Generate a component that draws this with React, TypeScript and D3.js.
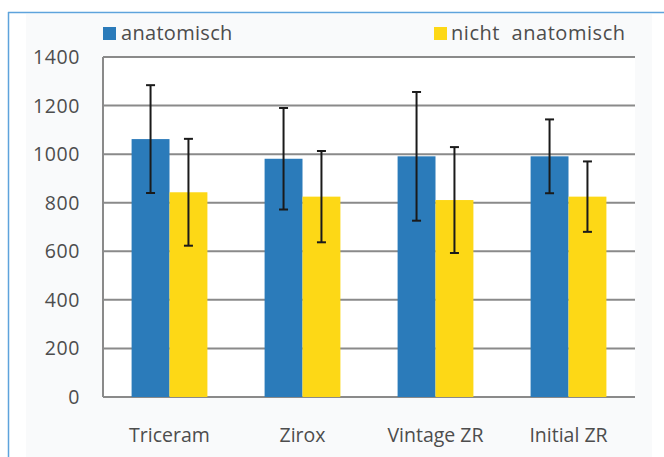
import React from "react";
import * as d3 from "d3";

const categories = ["Triceram", "Zirox", "Vintage ZR", "Initial ZR"];
const seriesNames = ["anatomisch", "nicht  anatomisch"];
const anatomisch = [1062, 981, 991, 991];
const anatomischErr = [222, 209, 265, 152];
const nichtAnatomisch = [843, 825, 811, 825];
const nichtAnatomischErr = [220, 188, 218, 145];
const yTicks = [0, 200, 400, 600, 800, 1000, 1200, 1400];
const colors = ["#2b7bba", "#fdd816"];

export default function App() {
  const W = 664, H = 457;
  const left = 103, right = 635, top = 57, bottom = 397;
  const x = d3.scaleBand().domain(categories).range([left, right]).paddingInner(0.43).paddingOuter(0.215);
  const x1 = d3.scaleBand().domain(["0", "1"]).range([0, x.bandwidth()]);
  const y = d3.scaleLinear().domain([0, 1400]).range([bottom, top]);
  const series = [
    { vals: anatomisch, errs: anatomischErr },
    { vals: nichtAnatomisch, errs: nichtAnatomischErr },
  ];
  const font = "'Open Sans', sans-serif";
  const txt = "#4d4d4d";
  return (
    <svg width={W} height={H} style={{ position: "absolute", left: 0, top: 0 }}>
      <rect x={0} y={0} width={W} height={H} fill="#ffffff" />
      <rect x={26} y={14} width={626} height={H - 14} fill="#f9fafb" />
      <line x1={8} y1={12.5} x2={W} y2={12.5} stroke="#5ea3dc" strokeWidth={1.5} />
      <line x1={8.5} y1={12} x2={8.5} y2={H} stroke="#5ea3dc" strokeWidth={1.5} />
      <rect x={left} y={top} width={right - left} height={bottom - top} fill="#ffffff" />
      {yTicks.map((t) => (
        <g key={t}>
          <line x1={left} x2={right} y1={y(t)} y2={y(t)} stroke="#8a8a8a" strokeWidth={2} />
          <text x={80} y={y(t)} dy="0.36em" textAnchor="end" fontFamily={font} fontSize={19.5} letterSpacing={0.6} fill={txt}>
            {t}
          </text>
        </g>
      ))}
      <line x1={left} x2={left} y1={top} y2={bottom} stroke="#8a8a8a" strokeWidth={2} />
      {categories.map((c, i) => (
        <g key={c}>
          {series.map((s, j) => {
            const bx = (x(c) as number) + (x1(String(j)) as number);
            const cx = bx + x1.bandwidth() / 2;
            return (
              <g key={j}>
                <rect x={bx} y={y(s.vals[i])} width={x1.bandwidth()} height={bottom - y(s.vals[i])} fill={colors[j]} />
                <line x1={cx} x2={cx} y1={y(s.vals[i] + s.errs[i])} y2={y(s.vals[i] - s.errs[i])} stroke="#1a1a1a" strokeWidth={2} />
                <line x1={cx - 4.5} x2={cx + 4.5} y1={y(s.vals[i] + s.errs[i])} y2={y(s.vals[i] + s.errs[i])} stroke="#1a1a1a" strokeWidth={2} />
                <line x1={cx - 4.5} x2={cx + 4.5} y1={y(s.vals[i] - s.errs[i])} y2={y(s.vals[i] - s.errs[i])} stroke="#1a1a1a" strokeWidth={2} />
              </g>
            );
          })}
          <text x={(x(c) as number) + x.bandwidth() / 2} y={442} textAnchor="middle" fontFamily={font} fontSize={19.5} fill={txt}>
            {c}
          </text>
        </g>
      ))}
      <rect x={103} y={27} width={13} height={13} fill={colors[0]} />
      <text x={121} y={40} fontFamily={font} fontSize={20} letterSpacing={0.3} fill={txt}>{seriesNames[0]}</text>
      <rect x={434} y={27} width={13} height={13} fill={colors[1]} />
      <text x={451} y={40} fontFamily={font} fontSize={20} letterSpacing={0.55} fill={txt} style={{ whiteSpace: "pre" }}>{seriesNames[1]}</text>
    </svg>
  );
}
